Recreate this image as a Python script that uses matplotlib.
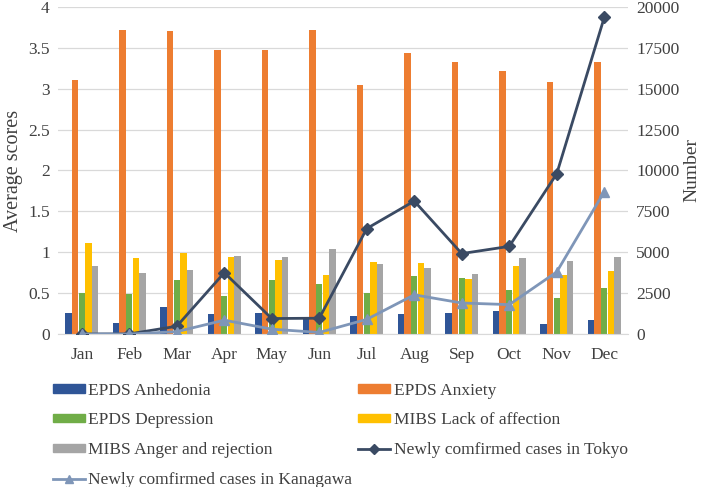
import numpy as np
import matplotlib

matplotlib.use("Agg")
import matplotlib.pyplot as plt
from matplotlib.lines import Line2D
from matplotlib.patches import Patch

months = ["Jan", "Feb", "Mar", "Apr", "May", "Jun",
          "Jul", "Aug", "Sep", "Oct", "Nov", "Dec"]

epds_anhedonia = [0.26, 0.14, 0.33, 0.24, 0.26, 0.20, 0.22, 0.24, 0.26, 0.28, 0.12, 0.17]
epds_anxiety = [3.11, 3.72, 3.70, 3.47, 3.47, 3.72, 3.05, 3.43, 3.33, 3.22, 3.08, 3.32]
epds_depression = [0.50, 0.49, 0.66, 0.47, 0.66, 0.61, 0.50, 0.71, 0.69, 0.54, 0.44, 0.56]
mibs_lack = [1.11, 0.93, 0.99, 0.94, 0.91, 0.72, 0.88, 0.87, 0.67, 0.83, 0.72, 0.77]
mibs_anger = [0.83, 0.75, 0.78, 0.95, 0.94, 1.04, 0.86, 0.81, 0.74, 0.93, 0.89, 0.94]

tokyo = [5, 10, 480, 3750, 950, 970, 6450, 8130, 4920, 5360, 9800, 19350]
kanagawa = [0, 0, 150, 850, 300, 100, 900, 2400, 1900, 1800, 3800, 8700]

bar_series = [
    ("EPDS Anhedonia", epds_anhedonia, "#2F5597"),
    ("EPDS Anxiety", epds_anxiety, "#ED7D31"),
    ("EPDS Depression", epds_depression, "#70AD47"),
    ("MIBS Lack of affection", mibs_lack, "#FFC000"),
    ("MIBS Anger and rejection", mibs_anger, "#A5A5A5"),
]

plt.rcParams["font.family"] = ["Liberation Serif", "DejaVu Serif"]
txt = "#404040"

fig = plt.figure(figsize=(7.08, 4.87), dpi=100)
ax = fig.add_axes([0.082, 0.314, 0.805, 0.672])
ax2 = ax.twinx()

x = np.arange(len(months))
w = 0.14
for i, (name, vals, col) in enumerate(bar_series):
    ax.bar(x + (i - 2) * w, vals, width=w * 0.95, color=col, zorder=2)

ax.set_ylim(0, 4)
ax.set_yticks(np.arange(0, 4.01, 0.5))
ax.set_yticklabels(["0", "0.5", "1", "1.5", "2", "2.5", "3", "3.5", "4"])
ax.set_xlim(-0.5, len(months) - 0.5)
ax.set_xticks(x)
ax.set_xticklabels(months)
ax.grid(axis="y", color="#D9D9D9", lw=0.9, zorder=0)
ax.set_axisbelow(True)
ax.set_ylabel("Average scores", color=txt, fontsize=14.5, labelpad=4)

tokyo_col = "#3A4A63"
kana_col = "#7F96B8"
ax2.plot(x, tokyo, color=tokyo_col, lw=2, marker="D", ms=6, zorder=3)
ax2.plot(x, kanagawa, color=kana_col, lw=2, marker="^", ms=7, zorder=3)
ax2.set_ylim(0, 20000)
ax2.set_yticks(np.arange(0, 20001, 2500))
ax2.set_ylabel("Number", color=txt, fontsize=14, labelpad=3)

for a in (ax, ax2):
    for s in a.spines.values():
        s.set_visible(False)
    a.tick_params(length=0, colors=txt, labelsize=12.5)
ax.spines["bottom"].set_visible(True)
ax.spines["bottom"].set_color("#D9D9D9")
ax.tick_params(axis="x", pad=9)
ax.tick_params(axis="y", pad=6)
ax2.tick_params(axis="y", pad=6)

bar_h = [Patch(color=c, label=n) for n, _, c in bar_series]
tokyo_h = Line2D([], [], color=tokyo_col, lw=2, marker="D", ms=5,
                 label="Newly comfirmed cases in Tokyo")
kana_h = Line2D([], [], color=kana_col, lw=2, marker="^", ms=6,
                label="Newly comfirmed cases in Kanagawa")
# column-major fill -> rows read Anhedonia/Anxiety, Depression/Lack, ...
handles = [bar_h[0], bar_h[2], bar_h[4], kana_h, bar_h[1], bar_h[3], tokyo_h]
fig.legend(handles=handles, ncol=2, loc="upper left",
           bbox_to_anchor=(0.062, 0.232), frameon=False, fontsize=12.5,
           borderpad=0, handlelength=1.85, handleheight=0.35,
           columnspacing=0.35, labelspacing=0.79, handletextpad=0.2,
           labelcolor=txt)

fig.savefig("out.png", dpi=100)
